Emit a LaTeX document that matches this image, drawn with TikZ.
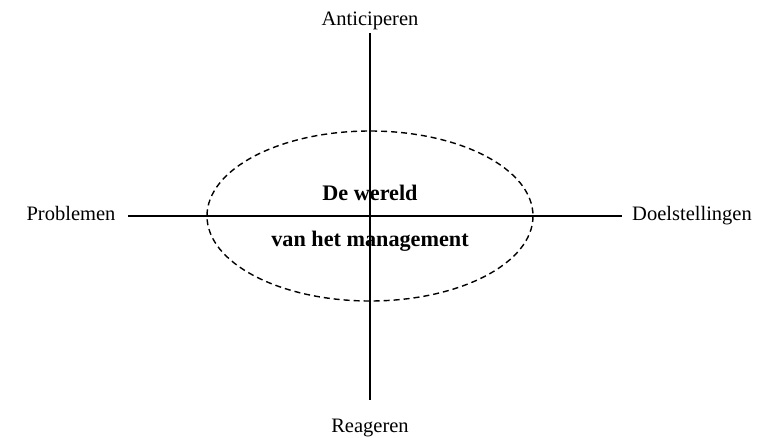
\documentclass[tikz,border=0pt]{standalone}
\usepackage{fontspec}
\setmainfont{Liberation Serif}
\begin{document}
\begin{tikzpicture}[x=1pt,y=-1pt,
  lbl/.style={font=\fontsize{20.5}{24}\selectfont, inner sep=0pt, anchor=base},
  blbl/.style={font=\fontsize{22.2}{26}\selectfont\bfseries, inner sep=0pt, anchor=base},
  axis/.style={line width=1.7pt},
  ring/.style={line width=1.4pt, dash pattern=on 6pt off 4pt}]
\useasboundingbox (0,0) rectangle (763,437);
\coordinate (top) at (370,33);
\coordinate (bot) at (370,400);
\coordinate (lft) at (128,216);
\coordinate (rgt) at (622,216);
\coordinate (c) at (370,216);
\draw[axis] (top) -- (bot);
\draw[axis] (lft) -- (rgt);
\draw[ring] (c) ellipse [x radius=163, y radius=85];
\node[lbl] (ant) at (370,25) {Anticiperen};
\node[lbl] (rea) at (370,432) {Reageren};
\node[lbl] (pro) at (71,220) {Problemen};
\node[lbl] (doe) at (692,220) {Doelstellingen};
\node[blbl] (w1) at (370,200) {De wereld};
\node[blbl] (w2) at (370,246) {van het management};
\end{tikzpicture}
\end{document}
